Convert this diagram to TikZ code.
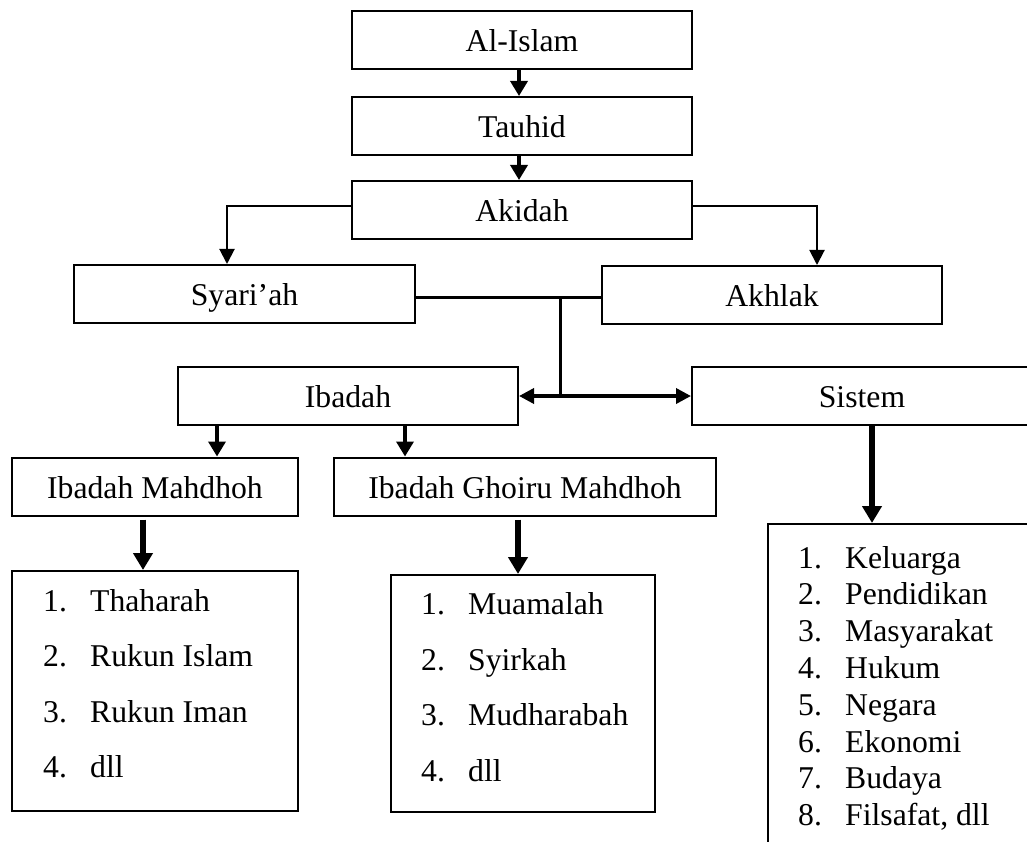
\documentclass[tikz,border=0pt]{standalone}
\usepackage{fontspec}
\setmainfont{Liberation Serif}
\usetikzlibrary{arrows.meta}

\newcommand{\hurufbesar}{\fontsize{31.7pt}{38pt}\selectfont}
\newcommand{\butir}[2]{\makebox[47pt][l]{#1}#2}

\tikzset{
  kotak/.style={draw, line width=2pt, minimum width=340pt, minimum height=58pt, inner sep=0pt,
    text height=23pt, text depth=0pt, font=\hurufbesar},
  daftar/.style={draw, line width=2pt, inner sep=0pt},
  isi/.style={anchor=base west, inner sep=0pt, font=\hurufbesar},
  panah/.style={line width=3.5pt, -{Triangle[width=17pt,length=15pt]}},
  panahtebal/.style={line width=5.5pt, -{Triangle[width=19pt,length=17pt]}},
  garis/.style={line width=2pt, -{Triangle[width=15pt,length=15pt]}},
  hubung/.style={line width=3pt},
  duaarah/.style={line width=3.5pt, {Triangle[width=15pt,length=15pt]}-{Triangle[width=15pt,length=15pt]}}
}

\begin{document}
\begin{tikzpicture}[x=1pt,y=-1pt]
  \useasboundingbox (0,0) rectangle (1027,842);
  \clip (0,0) rectangle (1027,842);
  % kotak utama
  \node[kotak] (islam) at (522,40) {Al-Islam};
  \node[kotak] (tauhid) at (522,126) {Tauhid};
  \node[kotak] (akidah) at (522,210) {Akidah};
  \node[kotak, minimum width=341pt] (syariah) at (244.5,294) {Syari’ah};
  \node[kotak] (akhlak) at (772,295) {Akhlak};
  \node[kotak] (ibadah) at (348,396) {Ibadah};
  \node[kotak] (sistem) at (862,396) {Sistem};
  \node[kotak, minimum width=286pt] (mahdhoh) at (155,486.5) {Ibadah Mahdhoh};
  \node[kotak, minimum width=382pt] (ghoiru) at (525,486.5) {Ibadah Ghoiru Mahdhoh};
  % kotak daftar
  \node[daftar, minimum width=286pt, minimum height=240pt] (daftarA) at (155,691) {};
  \node[daftar, minimum width=264pt, minimum height=237pt] (daftarB) at (523,693.5) {};
  \node[daftar, minimum width=277pt, minimum height=346pt] (daftarC) at (906.5,697) {};
  \node[isi] (a1) at (43,611) {\butir{1.}{Thaharah}};
  \node[isi] (a2) at (43,666.5) {\butir{2.}{Rukun Islam}};
  \node[isi] (a3) at (43,722) {\butir{3.}{Rukun Iman}};
  \node[isi] (a4) at (43,777.5) {\butir{4.}{dll}};
  \node[isi] (b1) at (421,614) {\butir{1.}{Muamalah}};
  \node[isi] (b2) at (421,670) {\butir{2.}{Syirkah}};
  \node[isi] (b3) at (421,725.5) {\butir{3.}{Mudharabah}};
  \node[isi] (b4) at (421,781) {\butir{4.}{dll}};
  \node[isi] (c1) at (798,568) {\butir{1.}{Keluarga}};
  \node[isi] (c2) at (798,604.8) {\butir{2.}{Pendidikan}};
  \node[isi] (c3) at (798,641.6) {\butir{3.}{Masyarakat}};
  \node[isi] (c4) at (798,678.4) {\butir{4.}{Hukum}};
  \node[isi] (c5) at (798,715.2) {\butir{5.}{Negara}};
  \node[isi] (c6) at (798,752) {\butir{6.}{Ekonomi}};
  \node[isi] (c7) at (798,788.8) {\butir{7.}{Budaya}};
  \node[isi] (c8) at (798,825.6) {\butir{8.}{Filsafat, dll}};
  % panah
  \draw[panah] ([xshift=-3pt]islam.south) -- ([xshift=-3pt]tauhid.north);
  \draw[panah] ([xshift=-3pt]tauhid.south) -- ([xshift=-3pt]akidah.north);
  \draw[garis] ([yshift=4pt]akidah.west) -| ([xshift=-17.5pt]syariah.north);
  \draw[garis] ([yshift=4pt]akidah.east) -| ([xshift=45pt]akhlak.north);
  \coordinate (simpul) at (560,297);
  \draw[hubung] (syariah.east |- simpul) -- (akhlak.west |- simpul);
  \draw[hubung] (simpul) -- (simpul |- ibadah);
  \draw[duaarah] (ibadah) -- (sistem);
  \draw[panah] ([xshift=-131pt]ibadah.south) -- ([xshift=62pt]mahdhoh.north);
  \draw[panah] ([xshift=57pt]ibadah.south) -- ([xshift=-120pt]ghoiru.north);
  \draw[panahtebal] ([xshift=-12pt,yshift=-3pt]mahdhoh.south) -- ([xshift=-12pt]daftarA.north);
  \draw[panahtebal] ([xshift=-7pt,yshift=-3pt]ghoiru.south) -- ([xshift=-5pt]daftarB.north);
  \draw[panahtebal] ([xshift=10pt]sistem.south) -- ([xshift=-34.5pt]daftarC.north);
\end{tikzpicture}
\end{document}
